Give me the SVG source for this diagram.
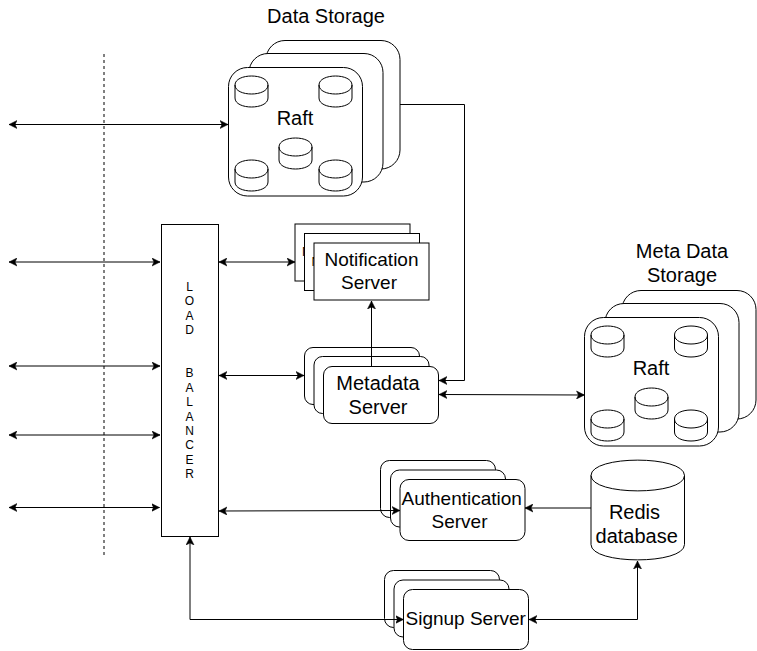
<svg xmlns="http://www.w3.org/2000/svg" xmlns:xlink="http://www.w3.org/1999/xlink" width="757" height="651" viewBox="0 0 757 651">
<style>
text{font-family:"Liberation Sans",Arial,sans-serif;fill:#000;text-anchor:middle;opacity:.99}
.t20{font-size:20px}
.t19{font-size:19px}
.t13{font-size:13px;text-anchor:start}
.lb{font-size:12px}
.box{fill:#fff;stroke:#000;stroke-width:1}
.c{fill:none;stroke:#000;stroke-width:1}
.a{marker-end:url(#ah)}
.b{marker-start:url(#ah);marker-end:url(#ah)}
</style>
<defs>
<marker id="ah" markerUnits="userSpaceOnUse" markerWidth="9" markerHeight="9" refX="8" refY="4" orient="auto-start-reverse" viewBox="0 0 9 8">
<path d="M8,4 L0,0 L2,4 L0,8 Z" fill="#000" stroke="#000" stroke-width=".5"/>
</marker>
<g id="cyl">
<path class="box" d="M0,9 C0,-3 33,-3 33,9 V22 C33,34 0,34 0,22 Z"/>
<path class="c" d="M0,9 C0,21 33,21 33,9"/>
</g>
</defs>
<rect width="757" height="651" fill="#fff"/>

<g id="data-storage">
<rect class="box" x="266" y="40.500" width="134" height="128.500" rx="19"/>
<rect class="box" x="249" y="53.500" width="134" height="128.500" rx="19"/>
<rect class="box" x="228.500" y="67.500" width="134" height="128.500" rx="19"/>
<use xlink:href="#cyl" href="#cyl" x="235" y="76"/>
<use xlink:href="#cyl" href="#cyl" x="319" y="76"/>
<use xlink:href="#cyl" href="#cyl" x="235" y="160"/>
<use xlink:href="#cyl" href="#cyl" x="319" y="160"/>
<use xlink:href="#cyl" href="#cyl" x="279" y="138"/>
<text class="t20" x="295" y="125">Raft</text>
<text class="t20" x="326" y="23">Data Storage</text>
</g>

<g id="meta-data-storage">
<rect class="box" x="622" y="290.500" width="134" height="128.500" rx="19"/>
<rect class="box" x="605" y="303.500" width="134" height="128.500" rx="19"/>
<rect class="box" x="584.500" y="317.500" width="134" height="128.500" rx="19"/>
<use xlink:href="#cyl" href="#cyl" x="591" y="326"/>
<use xlink:href="#cyl" href="#cyl" x="674.500" y="326"/>
<use xlink:href="#cyl" href="#cyl" x="591" y="410"/>
<use xlink:href="#cyl" href="#cyl" x="674.500" y="410"/>
<use xlink:href="#cyl" href="#cyl" x="635" y="388"/>
<text class="t20" x="651" y="375">Raft</text>
<text class="t20" x="682" y="258">Meta Data</text>
<text class="t20" x="682" y="282">Storage</text>
</g>

<g id="load-balancer">
<rect class="box" x="161.500" y="224.500" width="57" height="312"/>
<text class="lb" y="291">
<tspan x="189.500">L</tspan><tspan x="189.500" dy="14.400">O</tspan><tspan x="189.500" dy="14.400">A</tspan><tspan x="189.500" dy="14.400">D</tspan><tspan x="189.500" dy="43.200">B</tspan><tspan x="189.500" dy="14.400">A</tspan><tspan x="189.500" dy="14.400">L</tspan><tspan x="189.500" dy="14.400">A</tspan><tspan x="189.500" dy="14.400">N</tspan><tspan x="189.500" dy="14.400">C</tspan><tspan x="189.500" dy="14.400">E</tspan><tspan x="189.500" dy="14.400">R</tspan>
</text>
</g>

<g id="notification-server">
<rect class="box" x="295" y="224" width="115" height="57"/>
<text class="t13" x="302" y="256">N</text>
<rect class="box" x="304.500" y="233.500" width="115" height="57"/>
<text class="t13" x="311.500" y="266">N</text>
<rect class="box" x="314" y="243" width="115" height="57"/>
<text class="t19" x="371.500" y="266">Notification</text>
<text class="t19" x="369" y="289">Server</text>
</g>

<g id="metadata-server">
<rect class="box" x="304.500" y="347.500" width="115" height="57" rx="8.500"/>
<rect class="box" x="314" y="356.500" width="115" height="57" rx="8.500"/>
<rect class="box" x="323.500" y="366.500" width="115" height="57" rx="8.500"/>
<text class="t20" x="378" y="390">Metadata</text>
<text class="t20" x="378" y="414">Server</text>
</g>

<g id="authentication-server">
<rect class="box" x="380.500" y="460.500" width="115" height="57" rx="9"/>
<rect class="box" x="390.500" y="470" width="115" height="57" rx="9"/>
<rect class="box" x="400" y="479.500" width="125" height="61" rx="9"/>
<text class="t19" x="461.700" y="505">Authentication</text>
<text class="t19" x="459.500" y="528">Server</text>
</g>

<g id="signup-server">
<rect class="box" x="384.500" y="570.500" width="115" height="57" rx="9"/>
<rect class="box" x="394" y="580" width="115" height="57" rx="9"/>
<rect class="box" x="403.500" y="589.500" width="125" height="60" rx="9"/>
<text class="t19" x="465.700" y="625">Signup Server</text>
</g>

<g id="redis-database">
<path class="box" d="M591,475.500 C591,455 684.500,455 684.500,475.500 V544.500 C684.500,565 591,565 591,544.500 Z"/>
<path class="c" d="M591,475.500 C591,496 684.500,496 684.500,475.500"/>
<text class="t20" x="634.500" y="519">Redis</text>
<text class="t20" x="636.700" y="543">database</text>
</g>

<g id="connectors">
<path d="M104,54 V555" fill="none" stroke="#000" stroke-width="1" stroke-dasharray="3 3"/>
<path class="c b" d="M9,124.500 H228"/>
<path class="c b" d="M9,262 H160"/>
<path class="c b" d="M9,366 H160"/>
<path class="c b" d="M9,435 H160"/>
<path class="c b" d="M9,507.500 H159.500"/>
<path class="c b" d="M219,262 H295"/>
<path class="c b" d="M219,375.500 H304"/>
<path class="c a" d="M371.500,366 V301"/>
<path class="c b" d="M219,511 L400,510.500"/>
<path class="c a" d="M591,508 H525"/>
<path class="c b" d="M190,537 V619.500 H403.500"/>
<path class="c b" d="M529,619.500 H637.500 V561"/>
<path class="c a" d="M400,104.500 H464.500 V380.500 H439"/>
<path class="c b" d="M439,394.500 L584.500,395"/>
</g>
</svg>
